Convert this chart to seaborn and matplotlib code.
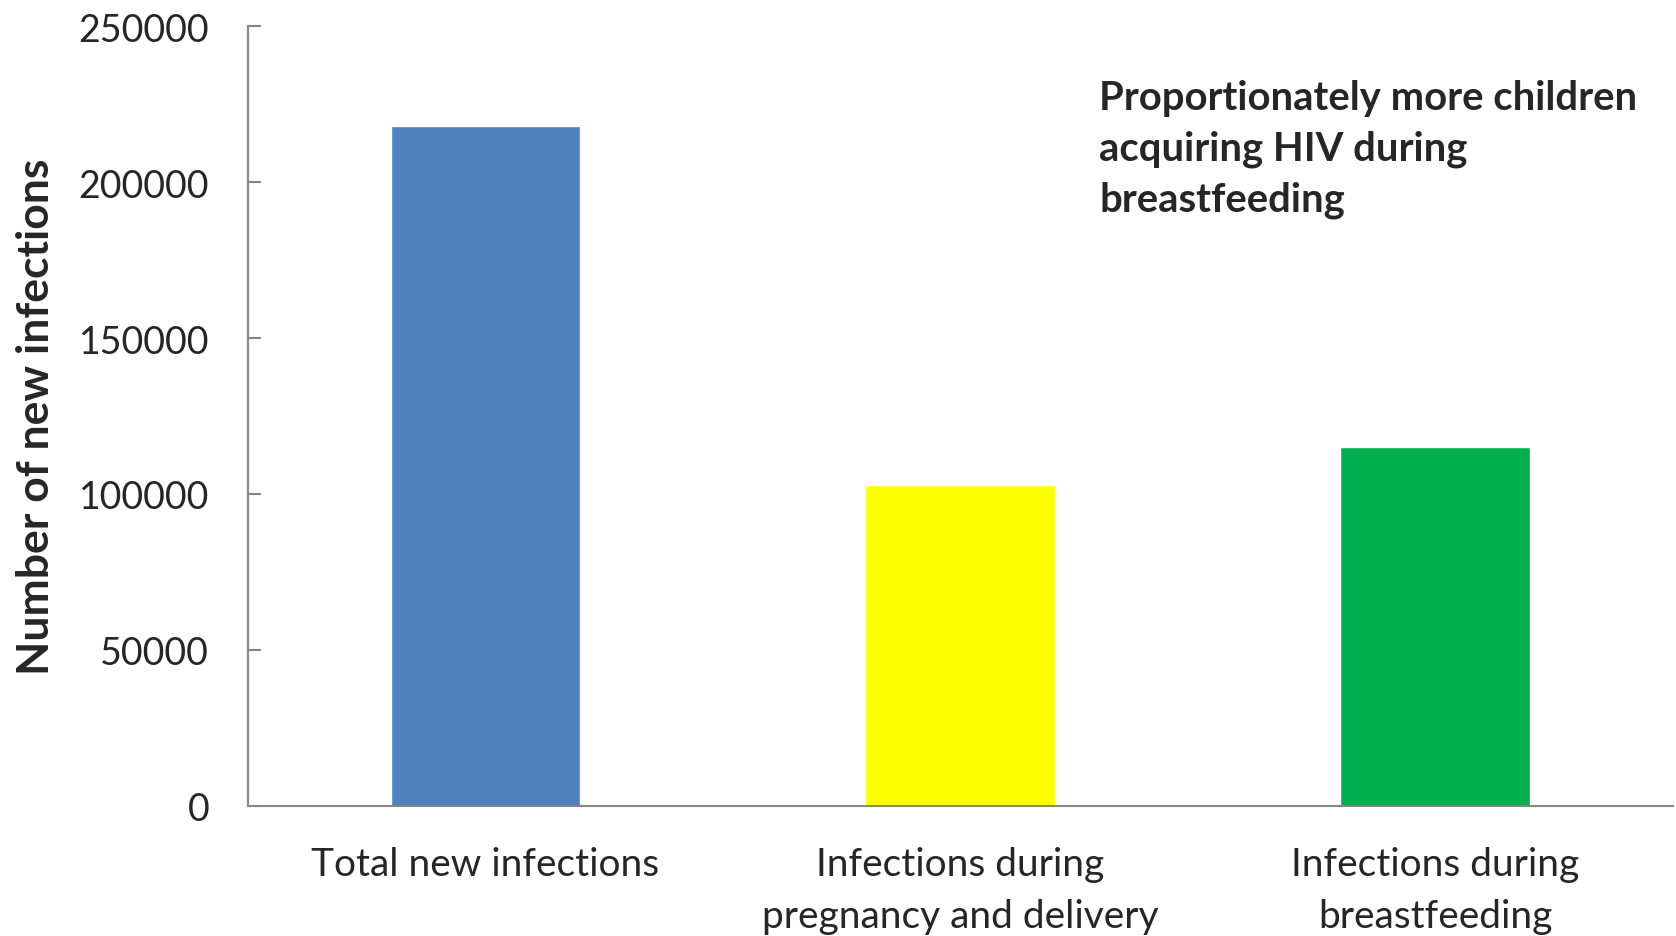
import numpy as np
import pandas as pd
import seaborn as sns
import matplotlib.pyplot as plt
from matplotlib.ticker import MultipleLocator, FuncFormatter

# 값은 그림에서 읽은 추정치
categories = ['Total new infections',
              'Infections during\npregnancy and delivery',
              'Infections during\nbreastfeeding']
new_infections = [218000, 103000, 115000]
bar_colors = ['#4F81BD', '#FFFF00', '#00B050']
note = 'Proportionately more children\nacquiring HIV during\nbreastfeeding'

df = pd.DataFrame({'category': categories, 'value': new_infections})

sns.set_style('white')
plt.rcParams['font.family'] = ['Lato', 'DejaVu Sans']

fig = plt.figure(figsize=(16.76, 9.37), dpi=100)
ax = fig.add_axes([0.148, 0.139, 0.850, 0.832])

sns.barplot(data=df, x='category', y='value', hue='category',
            palette=bar_colors, width=0.4, legend=False, ax=ax,
            saturation=1)

ax.set_xlim(-0.5, 2.5)
ax.set_ylim(0, 250000)
ax.yaxis.set_major_locator(MultipleLocator(50000))
ax.yaxis.set_major_formatter(FuncFormatter(lambda v, p: '%d' % v))

for side in ['top', 'right']:
    ax.spines[side].set_visible(False)
for side in ['left', 'bottom']:
    ax.spines[side].set_color('#868686')
    ax.spines[side].set_linewidth(1.5)

# 눈금: 범주 경계에만 표시
ax.set_xticks([0.5, 1.5, 2.5], minor=True)
ax.tick_params(axis='x', which='major', length=0, pad=29, labelsize=28)
ax.tick_params(axis='x', which='minor', direction='in', length=9,
               color='#868686', width=1.2)
ax.tick_params(axis='y', direction='in', length=9, color='#868686',
               width=1.5, pad=28, labelsize=27, left=True)
for lbl in ax.get_xticklabels():
    lbl.set_linespacing(1.55)

ax.set_xlabel('')
ax.set_ylabel('Number of new infections', fontsize=32, fontweight='bold',
              labelpad=16)

fig.text(0.656, 1 - 80 / 937, note, fontsize=28.8, fontweight='bold',
         va='top', ha='left', linespacing=1.45)

fig.savefig('out.png', dpi=100)
